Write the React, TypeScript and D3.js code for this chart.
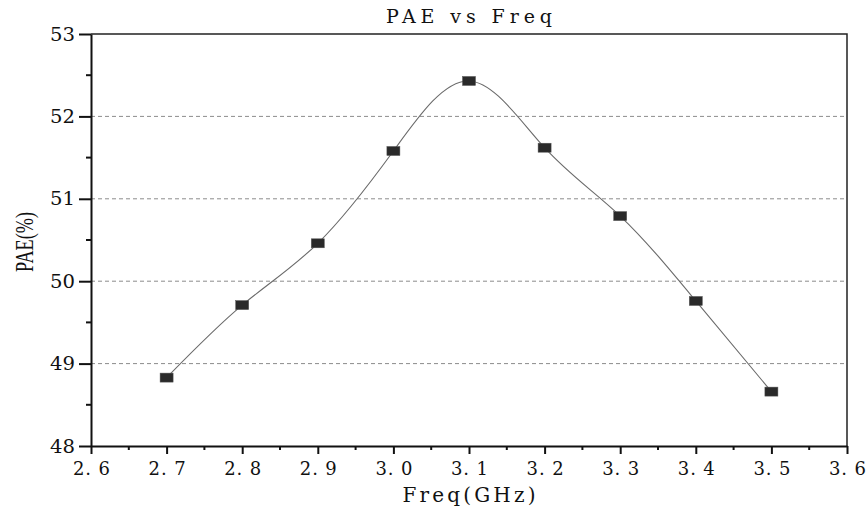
import React, { useRef, useEffect } from 'react';
import * as d3 from 'd3';

const freq = [2.7, 2.8, 2.9, 3.0, 3.1, 3.2, 3.3, 3.4, 3.5];
const pae = [48.83, 49.71, 50.46, 51.58, 52.43, 51.62, 50.79, 49.76, 48.66];
const xTicks = [2.6, 2.7, 2.8, 2.9, 3.0, 3.1, 3.2, 3.3, 3.4, 3.5, 3.6];
const yTicks = [48, 49, 50, 51, 52, 53];
const gridValues = [49, 50, 51, 52];

const SERIF = "'DejaVu Serif', 'Liberation Serif', serif";

const App = () => {
  const svgRef = useRef(null);

  useEffect(() => {
    document.body.style.margin = '0';
    const width = 867;
    const height = 512;
    const marginTop = 34;
    const marginRight = 20;
    const marginBottom = 66;
    const marginLeft = 91;

    const svg = d3.select(svgRef.current);
    svg.selectAll('*').remove();

    const x = d3.scaleLinear()
      .domain([2.6, 3.6])
      .range([marginLeft, width - marginRight]);

    const y = d3.scaleLinear()
      .domain([48, 53])
      .range([height - marginBottom, marginTop]);

    // dashed grid lines
    svg.append('g')
      .selectAll('line')
      .data(gridValues)
      .join('line')
      .attr('x1', marginLeft)
      .attr('x2', width - marginRight)
      .attr('y1', d => y(d))
      .attr('y2', d => y(d))
      .attr('stroke', '#8c8c8c')
      .attr('stroke-width', 1)
      .attr('stroke-dasharray', '4,3');

    // frame top and right
    svg.append('path')
      .attr('d', `M${marginLeft},${marginTop}H${width - marginRight}V${height - marginBottom}`)
      .attr('fill', 'none')
      .attr('stroke', '#222')
      .attr('stroke-width', 1.5);

    // bottom axis
    const xAxis = svg.append('g')
      .attr('transform', `translate(0,${height - marginBottom})`)
      .call(d3.axisBottom(x).tickValues(xTicks).tickSize(8).tickSizeOuter(0).tickFormat(d => d3.format('.1f')(d).replace('.', '. ')));
    xAxis.attr('font-family', null).attr('font-size', null);
    xAxis.select('.domain').attr('stroke', '#111').attr('stroke-width', 2);
    xAxis.selectAll('.tick line').attr('stroke', '#111').attr('stroke-width', 2);
    xAxis.selectAll('.tick text')
      .attr('y', 16)
      .attr('fill', '#111')
      .style('font-family', SERIF)
      .style('font-size', '18px')
      .attr('textLength', 37)
      .attr('lengthAdjust', 'spacing');

    // minor x ticks
    svg.append('g')
      .selectAll('line')
      .data(xTicks.slice(0, -1).map(d => d + 0.05))
      .join('line')
      .attr('x1', d => x(d))
      .attr('x2', d => x(d))
      .attr('y1', height - marginBottom)
      .attr('y2', height - marginBottom + 4)
      .attr('stroke', '#111')
      .attr('stroke-width', 2);

    // left axis
    const yAxis = svg.append('g')
      .attr('transform', `translate(${marginLeft},0)`)
      .call(d3.axisLeft(y).tickValues(yTicks).tickSize(12).tickSizeOuter(0).tickFormat(d3.format('d')));
    yAxis.attr('font-family', null).attr('font-size', null);
    yAxis.select('.domain').attr('stroke', '#111').attr('stroke-width', 2);
    yAxis.selectAll('.tick line').attr('stroke', '#111').attr('stroke-width', 2);
    yAxis.selectAll('.tick text')
      .attr('x', -16)
      .attr('fill', '#111')
      .style('font-family', SERIF)
      .style('font-size', '19px')
      .attr('textLength', 25)
      .attr('lengthAdjust', 'spacingAndGlyphs');

    // minor y ticks
    svg.append('g')
      .selectAll('line')
      .data(yTicks.slice(0, -1).map(d => d + 0.5))
      .join('line')
      .attr('x1', marginLeft)
      .attr('x2', marginLeft - 5)
      .attr('y1', d => y(d))
      .attr('y2', d => y(d))
      .attr('stroke', '#111')
      .attr('stroke-width', 2);

    // smooth curve
    const line = d3.line()
      .x((d, i) => x(freq[i]))
      .y(d => y(d))
      .curve(d3.curveNatural);

    svg.append('path')
      .datum(pae)
      .attr('fill', 'none')
      .attr('stroke', '#6a6a6a')
      .attr('stroke-width', 1.1)
      .attr('d', line);

    // markers
    svg.append('g')
      .selectAll('rect')
      .data(pae)
      .join('rect')
      .attr('x', (d, i) => x(freq[i]) - 6.5)
      .attr('y', d => y(d) - 4.5)
      .attr('width', 13)
      .attr('height', 9)
      .attr('fill', '#2a2a2a')
      .attr('stroke', '#555')
      .attr('stroke-width', 0.5);

    // title
    svg.append('text')
      .attr('x', (marginLeft + width - marginRight) / 2)
      .attr('y', 23)
      .attr('text-anchor', 'middle')
      .attr('fill', '#111')
      .style('font-family', SERIF)
      .style('font-size', '19px')
      .attr('textLength', 166)
      .attr('lengthAdjust', 'spacing')
      .text('PAE vs Freq');

    // x label
    svg.append('text')
      .attr('x', (marginLeft + width - marginRight) / 2)
      .attr('y', 502)
      .attr('text-anchor', 'middle')
      .attr('fill', '#111')
      .style('font-family', SERIF)
      .style('font-size', '20px')
      .attr('textLength', 133)
      .attr('lengthAdjust', 'spacing')
      .text('Freq(GHz)');

    // y label, condensed like the original
    svg.append('text')
      .attr('transform', `translate(33,${(marginTop + height - marginBottom) / 2 + 2}) rotate(-90)`)
      .attr('text-anchor', 'middle')
      .attr('fill', '#111')
      .style('font-family', "'Liberation Serif', serif")
      .style('font-size', '25px')
      .attr('textLength', 60)
      .attr('lengthAdjust', 'spacingAndGlyphs')
      .text('PAE(%)');
  }, []);

  return (
    <svg ref={svgRef} width={867} height={512} style={{ display: 'block', background: '#fff' }} />
  );
};

export default App;
